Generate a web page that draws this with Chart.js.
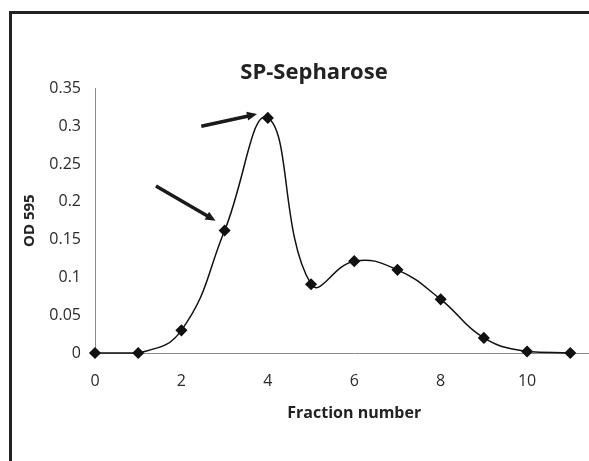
<!DOCTYPE html>
<html>
<head>
<meta charset="utf-8">
<script src="https://cdn.jsdelivr.net/npm/chart.js@4/dist/chart.umd.min.js"></script>
<style>
  html, body { margin: 0; padding: 0; background: #fff; overflow: hidden; width: 589px; height: 461px; }
  canvas { display: block; }
</style>
</head>
<body>
<!-- the figure is cropped on the right, so the canvas is a bit wider than the window -->
<canvas id="chart" width="620" height="461"></canvas>
<script>
const fractions = [0, 1, 2, 3, 4, 5, 6, 7, 8, 9, 10, 11];
const od595 = [0, 0, 0.030, 0.162, 0.311, 0.091, 0.1215, 0.110, 0.071, 0.020, 0.002, 0];

// arrows in data units: [x1, y1, x2, y2]
const arrows = [
    [2.46, 0.300, 3.75, 0.316],
    [1.41, 0.221, 2.79, 0.175]
];

// frame round the figure (only left and top edges show, the rest is cropped)
const framePlugin = {
    id: 'frame',
    beforeDraw(chart){
        const ctx = chart.ctx;
        ctx.save();
        ctx.strokeStyle = '#222';
        ctx.lineWidth = 3;
        ctx.beginPath();
        ctx.moveTo(10.5, chart.height + 5);
        ctx.lineTo(10.5, 12.5);
        ctx.lineTo(chart.width + 5, 12.5);
        ctx.stroke();
        ctx.restore();
    }
};

const arrowPlugin = {
    id: 'arrows',
    afterDatasetsDraw(chart){
        const ctx = chart.ctx;
        const xs = chart.scales.x;
        const ys = chart.scales.y;
        ctx.save();
        ctx.strokeStyle = '#1a1a1a';
        ctx.fillStyle = '#1a1a1a';
        ctx.lineWidth = 3.5;
        for (const a of arrows) {
            let x1 = xs.getPixelForValue(a[0]), y1 = ys.getPixelForValue(a[1]);
            let x2 = xs.getPixelForValue(a[2]), y2 = ys.getPixelForValue(a[3]);
            let ang = Math.atan2(y2 - y1, x2 - x1);
            let head = 11;
            ctx.beginPath();
            ctx.moveTo(x1, y1);
            ctx.lineTo(x2 - Math.cos(ang) * head * 0.8, y2 - Math.sin(ang) * head * 0.8);
            ctx.stroke();
            ctx.beginPath();
            ctx.moveTo(x2, y2);
            ctx.lineTo(x2 - head * Math.cos(ang - 0.42), y2 - head * Math.sin(ang - 0.42));
            ctx.lineTo(x2 - head * Math.cos(ang + 0.42), y2 - head * Math.sin(ang + 0.42));
            ctx.closePath();
            ctx.fill();
        }
        ctx.restore();
    }
};

const ctx = document.getElementById('chart');
new Chart(ctx, {
    type: 'scatter',
    data: {
        datasets: [{
            data: fractions.map((f, i) => ({x: f, y: od595[i]})),
            showLine: true,
            borderColor: '#111',
            borderWidth: 1.5,
            tension: 0.45,
            pointStyle: 'rectRot',
            pointRadius: 5,
            pointBackgroundColor: '#111',
            pointBorderColor: '#111',
            clip: false
        }]
    },
    options: {
        responsive: false,
        animation: false,
        layout: { padding: { left: 8, right: 0, top: 0, bottom: 0 } },
        plugins: {
            legend: { display: false },
            tooltip: { enabled: false },
            title: {
                display: true,
                text: 'SP-Sepharose',
                color: '#222',
                font: { family: 'Open Sans', size: 22, weight: 'bold' },
                padding: { top: 60, bottom: 2 }
            }
        },
        scales: {
            x: {
                type: 'linear',
                min: 0,
                max: 12,
                grid: { display: false, drawTicks: false },
                border: { color: '#8a8a8a', width: 1 },
                ticks: {
                    stepSize: 2,
                    color: '#2a2a2a',
                    font: { family: 'Open Sans', size: 16 },
                    padding: 19
                },
                title: {
                    display: true,
                    text: 'Fraction number',
                    color: '#222',
                    font: { family: 'Open Sans', size: 16, weight: 'bold' },
                    padding: { top: 0, bottom: 38 }
                },
                afterFit(scale){
                    scale.height = 108;
                    scale.paddingLeft = 0;
                    scale.paddingRight = 0;
                }
            },
            y: {
                min: 0,
                max: 0.35,
                grid: { display: false, drawTicks: false },
                border: { color: '#8a8a8a', width: 1 },
                ticks: {
                    stepSize: 0.05,
                    color: '#2a2a2a',
                    font: { family: 'Open Sans', size: 16 },
                    padding: 14,
                    callback: v => +v.toFixed(2)
                },
                title: {
                    display: true,
                    text: 'OD 595',
                    color: '#222',
                    font: { family: 'Open Sans', size: 15, weight: 'bold' },
                    padding: { top: 13, bottom: 0 }
                },
                afterFit(scale){ scale.width = 87; }
            }
        }
    },
    plugins: [framePlugin, arrowPlugin]
});
</script>
</body>
</html>
